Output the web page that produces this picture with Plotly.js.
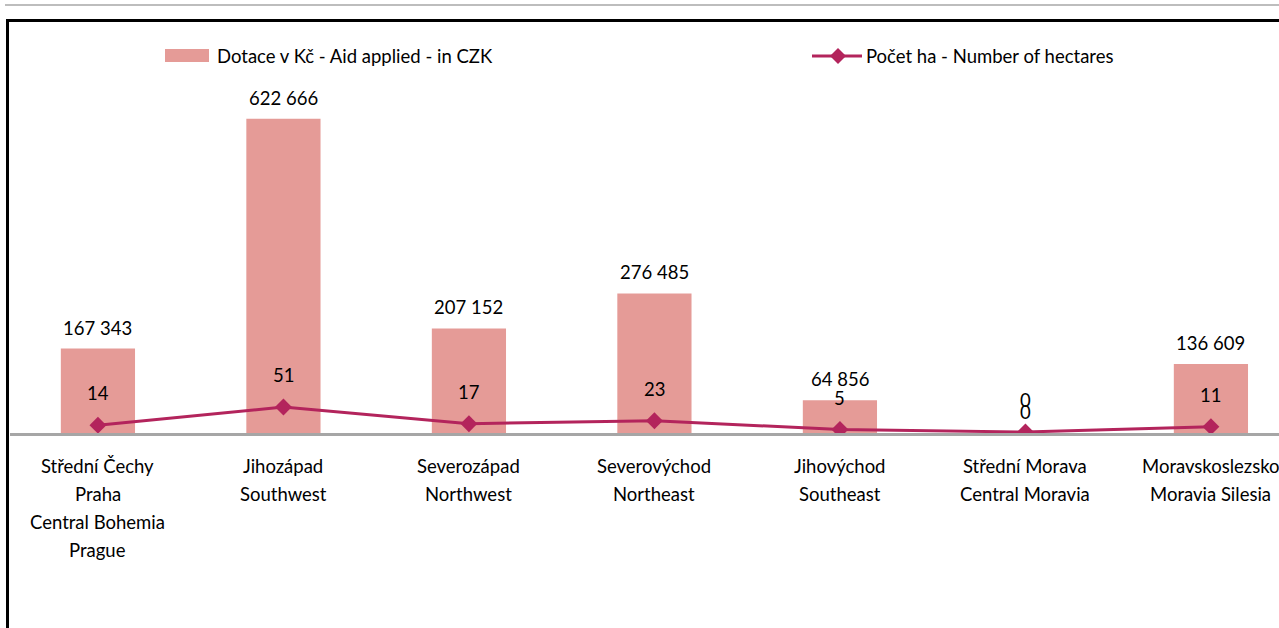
<!DOCTYPE html>
<html>
<head>
<meta charset="utf-8">
<script src="https://cdn.plot.ly/plotly-3.0.1.min.js"></script>
<style>
  html, body { margin: 0; padding: 0; background: #fff; overflow: hidden; }
  #topline { position: absolute; left: 5px; top: 4px; width: 1400px; height: 2px; background: #bdbdbd; }
  #frame { position: absolute; left: 6px; top: 19px; width: 1400px; height: 700px;
           border-top: 3px solid #000; border-left: 3px solid #000; box-sizing: border-box; }
  #chart { position: absolute; left: 0; top: 0; width: 1279px; height: 628px; }
</style>
</head>
<body>
<div id="topline"></div>
<div id="frame"></div>
<div id="chart"></div>
<script>
// ---- data ----
const regionLines = [
  ["Střední Čechy", "Praha", "Central Bohemia", "Prague"],
  ["Jihozápad", "Southwest"],
  ["Severozápad", "Northwest"],
  ["Severovýchod", "Northeast"],
  ["Jihovýchod", "Southeast"],
  ["Střední Morava", "Central Moravia"],
  ["Moravskoslezsko", "Moravia Silesia"]
];
const aidCZK = [167343, 622666, 207152, 276485, 64856, 0, 136609];
const hectares = [14, 51, 17, 23, 5, 0, 11];
const barName = "Dotace v Kč - Aid applied - in CZK";
const lineName = "Počet ha - Number of hectares";

// ---- style ----
const FONT = "Lato, 'Liberation Sans', sans-serif";
const FS = 18.5;
const barColor = "#E59B97";
const lineColor = "#B3245C";

const categories = regionLines.map(l => l.join(" / "));
const fmt = v => String(v).replace(/\B(?=(\d{3})+(?!\d))/g, " ");

const traces = [
  { type: "bar", x: categories, y: aidCZK, name: barName,
    marker: { color: barColor }, width: 0.4, hoverinfo: "x+y", showlegend: false },
  { type: "scatter", mode: "lines+markers", x: categories, y: hectares, yaxis: "y2",
    name: lineName, line: { color: lineColor, width: 3 },
    marker: { symbol: "diamond", size: 13, color: lineColor }, showlegend: false }
];

const annotations = [];
aidCZK.forEach((v, i) => annotations.push({
  x: i, y: v, xref: "x", yref: "y", text: fmt(v), showarrow: false,
  yanchor: "middle", yshift: 21, font: { family: FONT, size: FS, color: "#000" }
}));
hectares.forEach((v, i) => annotations.push({
  x: i, y: v, xref: "x", yref: "y2", text: fmt(v), showarrow: false,
  yanchor: "middle", yshift: 32, font: { family: FONT, size: FS, color: "#000" }
}));
regionLines.forEach((lines, i) => lines.forEach((t, k) => annotations.push({
  x: i, y: 0, xref: "x", yref: "paper", text: t, showarrow: false,
  yanchor: "middle", yshift: -33 - 28 * k, font: { family: FONT, size: FS, color: "#000" }
})));
// legend texts (plot left = 10px, plot top = 60px)
annotations.push({ x: 0, y: 1, xref: "paper", yref: "paper", xanchor: "left", yanchor: "middle",
  xshift: 205, yshift: 4, text: barName, showarrow: false, font: { family: FONT, size: FS, color: "#000" } });
annotations.push({ x: 0, y: 1, xref: "paper", yref: "paper", xanchor: "left", yanchor: "middle",
  xshift: 854, yshift: 4, text: lineName, showarrow: false, font: { family: FONT, size: FS, color: "#000" } });

const shapes = [
  { type: "rect", xref: "paper", yref: "paper", xsizemode: "pixel", ysizemode: "pixel",
    xanchor: 0, yanchor: 1, x0: 155, x1: 199, y0: -2, y1: 11,
    fillcolor: barColor, line: { width: 0 } },
  { type: "line", xref: "paper", yref: "paper", xsizemode: "pixel", ysizemode: "pixel",
    xanchor: 0, yanchor: 1, x0: 802, x1: 852, y0: 4, y1: 4,
    line: { color: lineColor, width: 3 } },
  { type: "path", xref: "paper", yref: "paper", xsizemode: "pixel", ysizemode: "pixel",
    xanchor: 0, yanchor: 1, path: "M 820 4 L 828 12 L 836 4 L 828 -4 Z",
    fillcolor: lineColor, line: { color: lineColor, width: 0 } }
];

const layout = {
  width: 1279, height: 628,
  margin: { l: 10, r: 0, t: 60, b: 195 },
  paper_bgcolor: "rgba(0,0,0,0)", plot_bgcolor: "rgba(0,0,0,0)",
  font: { family: FONT, size: FS, color: "#000" },
  showlegend: false,
  xaxis: { type: "category", range: [-0.474, 6.367], showticklabels: false, ticks: "",
           showgrid: false, zeroline: false, showline: true, linecolor: "#A6A6A6", linewidth: 2.5,
           fixedrange: true },
  yaxis: { range: [0, 739000], visible: false, showgrid: false, zeroline: false, fixedrange: true },
  yaxis2: { range: [-2, 759], overlaying: "y", side: "right", visible: false,
            showgrid: false, zeroline: false, fixedrange: true },
  annotations, shapes
};

Plotly.newPlot("chart", traces, layout, { displayModeBar: false, staticPlot: true });
</script>
</body>
</html>
